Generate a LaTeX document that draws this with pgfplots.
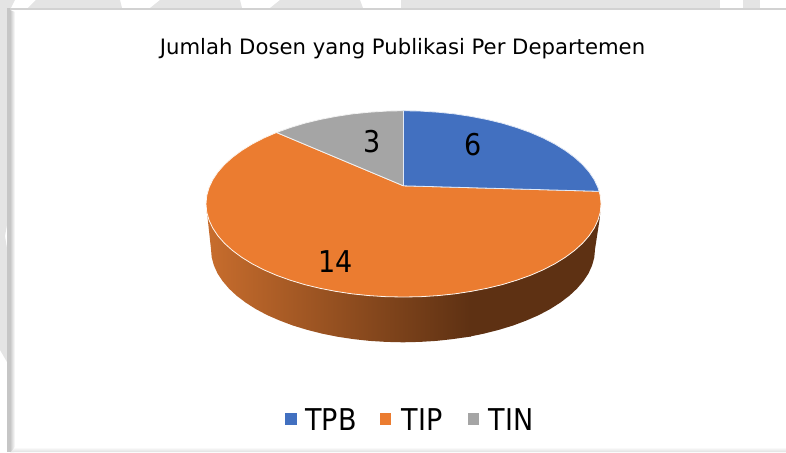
\documentclass[border=0pt]{standalone}
\usepackage{pgfplots}
\pgfplotsset{compat=1.18}
\usepackage{fontspec}
\setmainfont{DejaVu Sans Condensed}
\newfontfamily\titlefont{DejaVu Sans}
\definecolor{cTPB}{HTML}{4270C0}
\definecolor{cTIP}{HTML}{EB7C30}
\definecolor{cTIN}{HTML}{A5A5A5}
\definecolor{sideA}{HTML}{C86D2D}
\definecolor{sideB}{HTML}{5E3113}
\definecolor{bgG}{HTML}{E4E4E4}
\definecolor{lineG}{HTML}{D2D2D2}
\definecolor{lineH}{HTML}{C6C6C6}
\begin{document}
\begin{tikzpicture}
\begin{axis}[
  scale only axis, width=786pt, height=452pt,
  xmin=0, xmax=786, ymin=0, ymax=452, y dir=reverse,
  axis lines=none, clip=true,
  every axis plot/.append style={line join=round},
]
% --- page background bits
\addplot[draw=none, fill=bgG] coordinates {(0,0)(15,0)(11,8)(0,8)};
\addplot[draw=none, fill=bgG] coordinates {(36,0)(120,0)(122,8)(28,8)};
\addplot[draw=none, fill=bgG] coordinates {(160,0)(240,0)(242,8)(150,8)};
\addplot[draw=none, fill=bgG] coordinates {(280,0)(360,0)(363,8)(270,8)};
\addplot[draw=none, fill=bgG] coordinates {(401,0)(720,0)(720,8)(401,8)};
\addplot[draw=none, fill=bgG] coordinates {(743,0)(760,0)(760,8)(743,8)};
\addplot[draw=none, fill=bgG] coordinates {(0,0)(7,0)(7,225)(5,236)(7,248)(7,362)(0,350)};
\addplot[draw=none, fill=lineG] coordinates {(7,8)(786,8)(786,10)(7,10)};
\addplot[draw=none, fill=lineH] coordinates {(7,8)(10,8)(10,452)(7,452)};
\addplot[draw=none, left color=lineH, right color=white] coordinates {(10,10)(15,12)(15,452)(10,452)};
\addplot[draw=none, top color=white, bottom color=lineG!70] coordinates {(15,447)(786,447)(786,452)(11,452)};
% --- side of the pie
\addplot[draw=none, left color=sideA, right color=sideB] coordinates {
 (206.7,212)(209,220.1)(212.7,228)(217.9,235.8)(224.5,243.3)(232.5,250.5)(241.7,257.3)(252.2,263.8)(263.8,269.8)(276.5,275.3)(290.2,280.2)(304.7,284.6)(320,288.3)(336,291.4)(352.4,293.9)(369.2,295.6)(386.3,296.7)(403.5,297)(420.7,296.7)(437.8,295.6)(454.6,293.9)(471,291.4)
 (471,336.5)(452.7,339.1)(436.3,340.9)(419.7,341.9)(403,342.3)(386.3,341.9)(369.7,340.9)(353.3,339.1)(337.3,336.7)(321.9,333.6)(307,329.8)(292.9,325.5)(279.6,320.5)(267.2,315.1)(255.9,309.1)(245.7,302.6)(236.7,295.8)(229,288.6)(222.6,281.1)(217.5,273.4)(213.9,265.4)(211.7,257.4)(211,249.3)(207.5,217)
};
\addplot[draw=none, fill=sideB] coordinates {
 (470,291.5)(487,288.3)(502.3,284.6)(516.8,280.2)(530.5,275.3)(543.2,269.8)(554.8,263.8)(565.3,257.3)(574.5,250.5)(582.5,243.3)(589.1,235.8)(594.3,228)(598,220.1)(600.3,212)
 (599.5,220)(595,249.3)(594.3,257.4)(592.1,265.4)(588.5,273.4)(583.4,281.1)(577,288.6)(569.3,295.8)(560.3,302.6)(550.1,309.1)(538.8,315.1)(526.4,320.5)(513.1,325.5)(499,329.8)(484.1,333.6)(470,336.5)
};
% --- top slices: TIP 14
\addplot[draw=white!92!cTIP, line width=0.8pt, fill=cTIP] coordinates {
 (403.4,185.8)(599.1,191.3)(600.3,195.8)(601,203.9)(600.3,212)(598,220.1)(594.3,228)(589.1,235.8)(582.5,243.3)(574.5,250.5)(565.3,257.3)(554.8,263.8)(543.2,269.8)(530.5,275.3)(516.8,280.2)(502.3,284.6)(487,288.3)(471,291.4)(454.6,293.9)(437.8,295.6)(420.7,296.7)(403.5,297)
 (386.3,296.7)(369.2,295.6)(352.4,293.9)(336,291.4)(320,288.3)(304.7,284.6)(290.2,280.2)(276.5,275.3)(263.8,269.8)(252.2,263.8)(241.7,257.3)(232.5,250.5)(224.5,243.3)(217.9,235.8)(212.7,228)(209,220.1)(206.7,212)(206,203.9)
 (206.7,195.8)(209,187.7)(212.7,179.8)(217.9,172)(224.5,164.5)(232.5,157.3)(241.7,150.5)(252.2,144)(263.8,138)(276.5,132.5)(403.4,185.8)
};
% TIN 3
\addplot[draw=white!85!cTIN, line width=0.8pt, fill=cTIN] coordinates {
 (403.4,185.8)(276.5,132.5)(290.2,127.6)(304.7,123.2)(320,119.5)(336,116.4)(352.4,113.9)(369.2,112.2)(386.3,111.1)(403.5,110.7)(403.4,185.8)
};
% TPB 6
\addplot[draw=white!85!cTPB, line width=0.8pt, fill=cTPB] coordinates {
 (403.4,185.8)(403.5,110.7)(420.7,111.1)(437.8,112.2)(454.6,113.9)(471,116.4)(487,119.5)(502.3,123.2)(516.8,127.6)(530.5,132.5)(543.2,138)(554.8,144)(565.3,150.5)(574.5,157.3)(582.5,164.5)(589.1,172)(594.3,179.8)(598,187.7)(599.1,191.3)(403.4,185.8)
};
% --- legend squares
\addplot[only marks, mark=square*, mark size=5.1pt, mark options={draw=cTPB, fill=cTPB, line width=0pt}] coordinates {(291,419)};
\addplot[only marks, mark=square*, mark size=5.1pt, mark options={draw=cTIP, fill=cTIP, line width=0pt}] coordinates {(385.3,419)};
\addplot[only marks, mark=square*, mark size=5.1pt, mark options={draw=cTIN, fill=cTIN, line width=0pt}] coordinates {(473.2,419)};
% --- text
\node[inner sep=0, font=\titlefont\fontsize{21.2}{25}\selectfont] at (axis cs:402.5,48.5) {Jumlah Dosen yang Publikasi Per Departemen};
\node[inner sep=0, font=\fontsize{30}{36}\selectfont] at (axis cs:473,145) {6};
\node[inner sep=0, font=\fontsize{30}{36}\selectfont] at (axis cs:372,142) {3};
\node[inner sep=0, font=\fontsize{30}{36}\selectfont] at (axis cs:336,262) {14};
\node[inner sep=0, font=\fontsize{30}{36}\selectfont] at (axis cs:331,420) {TPB};
\node[inner sep=0, font=\fontsize{30}{36}\selectfont] at (axis cs:422,420) {TIP};
\node[inner sep=0, font=\fontsize{30}{36}\selectfont] at (axis cs:511,420) {TIN};
\end{axis}
\end{tikzpicture}
\end{document}
